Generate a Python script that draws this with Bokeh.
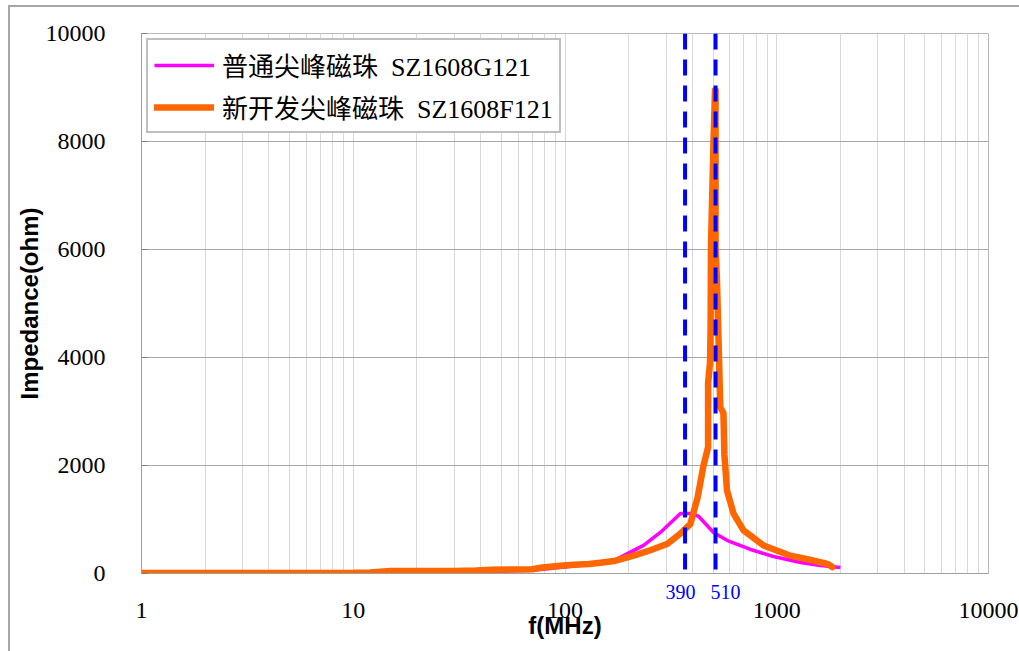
from bokeh.plotting import figure
from bokeh.models import FixedTicker, PrintfTickFormatter, Span, LogAxis
from bokeh.embed import file_html
from bokeh.resources import INLINE

# ---- data ----
mag_name = "普通尖峰磁珠  SZ1608G121"
mag_f = [1, 10, 20, 40, 70, 100, 150, 170, 189, 235, 282, 351, 391, 427, 503, 585, 752, 965, 1295, 1609, 2000]
mag_z = [5, 10, 15, 30, 60, 120, 195, 240, 330, 520, 760, 1110, 1110, 1060, 760, 610, 445, 315, 205, 150, 110]

org_name = "新开发尖峰磁珠  SZ1608F121"
org_f = [1, 10, 12, 15, 30, 38, 45, 70, 78, 98, 110, 130, 147, 170, 211, 253, 305, 351, 391, 423, 451,
         474, 474, 484, 487, 489, 503, 511, 514, 514, 522, 531, 541, 560, 566, 582, 625, 697, 866,
         1161, 1491, 1699, 1755, 1830]
org_z = [10, 12, 20, 45, 48, 55, 70, 80, 110, 150, 160, 175, 200, 230, 330, 430, 550, 740, 920, 1410, 2000,
         2340, 3520, 3900, 4500, 6050, 8030, 8950, 8950, 6050, 5430, 4320, 3080, 2970, 2200, 1540, 1110, 800, 520,
         330, 240, 185, 170, 120]

marker_f = [369, 514]            # dashed marker lines
marker_label_f = [351, 573]      # where their labels sit
marker_text = ["390", "510"]

x_ticks = [1, 10, 100, 1000, 10000]
y_ticks = [0, 2000, 4000, 6000, 8000, 10000]

p = figure(width=1009, height=644, x_axis_type="log", x_range=(1, 10000), y_range=(0, 10000),
           output_backend="svg", toolbar_location=None, title=None,
           min_border_left=131, min_border_right=31, min_border_top=26, min_border_bottom=78)
p.styles = {"margin-left": "10px", "margin-top": "7px", "outline": "2px solid #a6a6a6"}
p.background_fill_color = "white"
p.border_fill_color = "white"
p.outline_line_color = "#b8b8b8"
p.outline_line_width = 1

minor = [m * 10 ** k for k in range(4) for m in range(2, 10)]

# inner x axis: frame line + blue marker labels
mx = p.xaxis[0]
mx.ticker = FixedTicker(ticks=marker_label_f)
mx.major_label_overrides = {f: t for f, t in zip(marker_label_f, marker_text)}
mx.axis_line_color = "#a0a0a0"
mx.major_tick_line_color = None
mx.minor_tick_line_color = None
mx.major_label_standoff = 5
mx.major_label_text_font = "Liberation Serif"
mx.major_label_text_font_size = "20px"
mx.major_label_text_color = "#0000ff"

# outer x axis: decade labels + title
dx = LogAxis(ticker=FixedTicker(ticks=x_ticks), formatter=PrintfTickFormatter(format="%d"))
dx.axis_line_color = None
dx.major_tick_line_color = None
dx.minor_tick_line_color = None
dx.major_label_standoff = -5
dx.major_label_text_font = "Liberation Serif"
dx.major_label_text_font_size = "24px"
dx.major_label_text_color = "black"
dx.axis_label = "f(MHz)"
dx.axis_label_text_font = "Liberation Sans"
dx.axis_label_text_font_style = "bold"
dx.axis_label_text_font_size = "24px"
dx.axis_label_text_color = "black"
dx.axis_label_standoff = -9
p.below = [mx, dx]

ya = p.yaxis[0]
ya.ticker = FixedTicker(ticks=y_ticks)
ya.formatter = PrintfTickFormatter(format="%d")
ya.axis_line_color = "#a0a0a0"
ya.major_tick_line_color = "#808080"
ya.major_tick_in = 6
ya.major_tick_out = 0
ya.minor_tick_line_color = None
ya.major_label_standoff = 36
ya.major_label_text_font = "Liberation Serif"
ya.major_label_text_font_size = "24px"
ya.major_label_text_color = "black"
ya.axis_label = "Impedance(ohm)"
ya.axis_label_text_font = "Liberation Sans"
ya.axis_label_text_font_style = "bold"
ya.axis_label_text_font_size = "24px"
ya.axis_label_text_color = "black"
ya.axis_label_standoff = 0

p.xgrid.ticker = FixedTicker(ticks=x_ticks, minor_ticks=minor)
p.xgrid.grid_line_color = "#d9d9d9"
p.xgrid.minor_grid_line_color = "#d9d9d9"
p.ygrid.grid_line_color = "#a6a6a6"

p.line(mag_f, mag_z, line_color="#ff00ff", line_width=3.5, legend_label=mag_name)
p.line(org_f, org_z, line_color="#ff6600", line_width=6.5, line_join="round", line_cap="round",
       legend_label=org_name)

for f in marker_f:
    p.add_layout(Span(location=f, dimension="height", line_color="#0000ff", line_width=4, line_dash="16 10"))

lg = p.legend[0]
lg.location = "top_left"
lg.margin = 5
lg.padding = 6
lg.spacing = 5
lg.glyph_width = 60
lg.glyph_height = 30
lg.label_height = 30
lg.label_standoff = 8
lg.label_text_font = "Liberation Serif, Noto Sans CJK SC"
lg.label_text_font_size = "26px"
lg.label_text_color = "black"
lg.border_line_color = "#808080"
lg.border_line_width = 2
lg.background_fill_alpha = 1

open("out.html", "w").write(file_html(p, INLINE))
